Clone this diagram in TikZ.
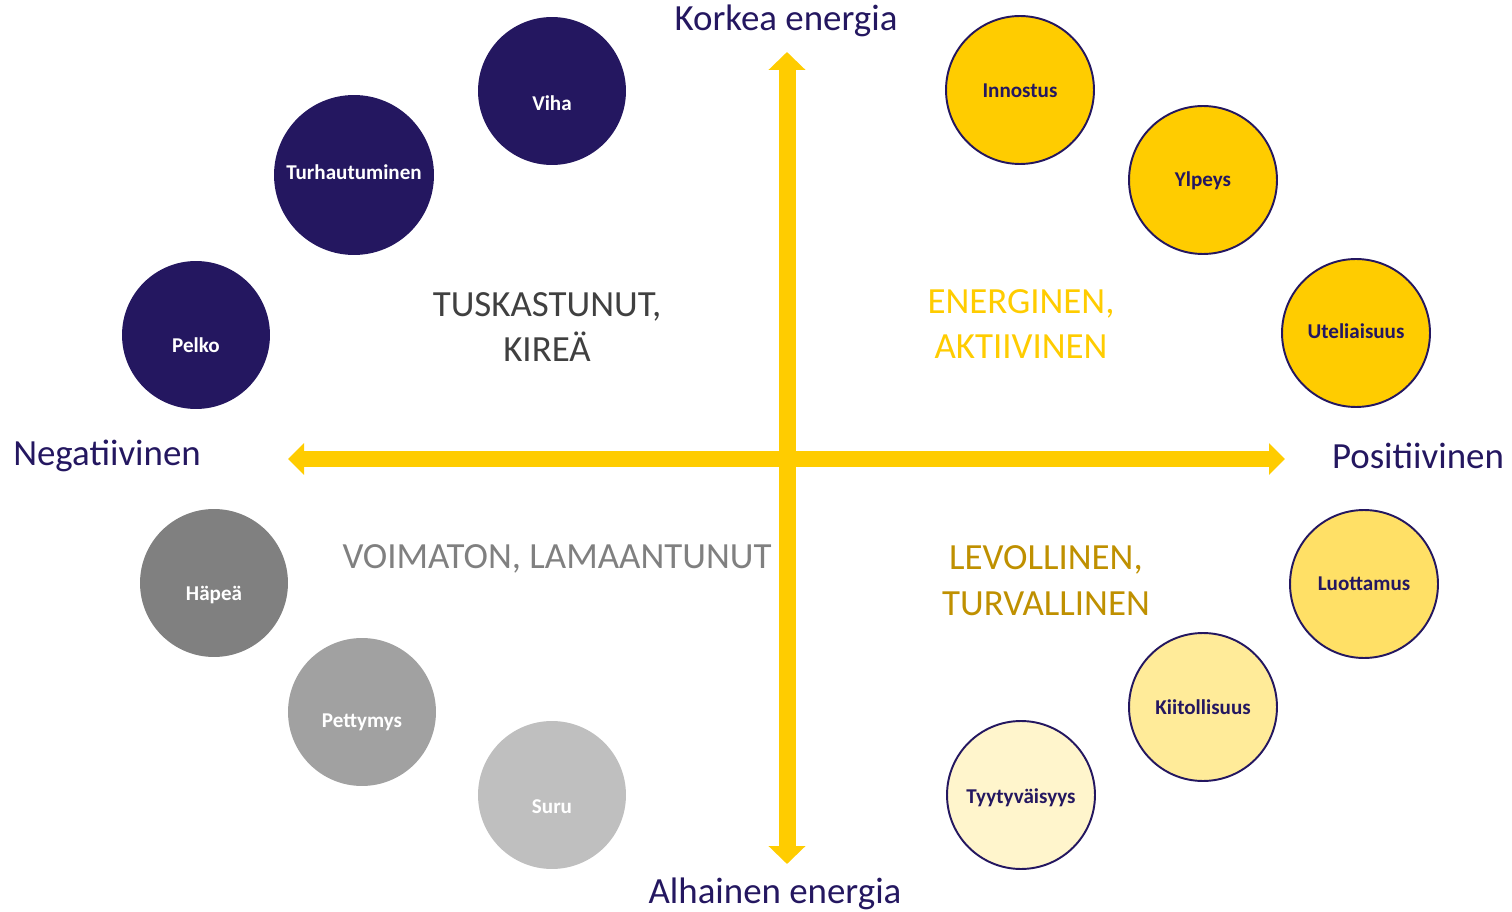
\documentclass[tikz,border=0pt]{standalone}
\usepackage{fontspec}
\setmainfont{Carlito}
\usepackage{xcolor}
\usetikzlibrary{arrows.meta}

\definecolor{navy}{HTML}{241760}
\definecolor{kelta}{HTML}{FFCC00}
\definecolor{kulta}{HTML}{BF9000}

\tikzset{
  tunne/.style={circle, minimum size=2.96cm, inner sep=0pt},
  tumma/.style={tunne, fill=navy},
  harmaa/.style={tunne},
  vaalea/.style={tunne, draw=navy, line width=1.1pt},
  nimi/.style={font=\fontsize{12}{14}\selectfont\bfseries, inner sep=0pt},
  akseli/.style={font=\fontsize{21}{24}\selectfont, text=navy},
  alue/.style={font=\fontsize{21}{26}\selectfont, align=center},
  nuoli/.style={kelta, line width=0.34cm, {Triangle[width=0.72cm,length=0.36cm]}-{Triangle[width=0.72cm,length=0.36cm]}}
}

\begin{document}
\begin{tikzpicture}[x=0.02cm, y=-0.02cm]
\useasboundingbox (0,0) rectangle (1512,912);

% axes
\coordinate (ylos) at (787,52);
\coordinate (alas) at (787,864);
\coordinate (vasen) at (288,459);
\coordinate (oikea) at (1285,459);
\draw[nuoli] (alas) -- (ylos);
\draw[nuoli, line width=0.32cm, {Triangle[width=0.62cm,length=0.32cm]}-{Triangle[width=0.62cm,length=0.32cm]}] (vasen) -- (oikea);

\node[akseli] (korkea) at (786,21) {Korkea energia};
\node[akseli] (alhainen) at (775,894) {Alhainen energia};
\node[akseli] (neg) at (107,456) {Negatiivinen};
\node[akseli] (pos) at (1418,456) {Positiivinen};

% quadrant labels
\node[alue, text=black!75] (tuska) at (547,327) {TUSKASTUNUT,\\KIREÄ};
\node[alue, text=kelta] (energ) at (1021,324) {ENERGINEN,\\AKTIIVINEN};
\node[alue, text=black!50] (voima) at (557,559) {VOIMATON, LAMAANTUNUT};
\node[alue, text=kulta] (levo) at (1046,581) {LEVOLLINEN,\\TURVALLINEN};

% negative, high energy
\node[tumma, label={[nimi, text=white, yshift=-0.24cm]center:Viha}] (viha) at (552,91) {};
\node[tumma, minimum size=3.2cm, label={[nimi, text=white, yshift=0.06cm]center:Turhautuminen}] (turha) at (354,175) {};
\node[tumma, label={[nimi, text=white, yshift=-0.2cm]center:Pelko}] (pelko) at (196,335) {};

% negative, low energy
\node[harmaa, fill=black!50, label={[nimi, text=white, yshift=-0.24cm]center:Häpeä}] (hapea) at (214,583) {};
\node[harmaa, fill=black!37, label={[nimi, text=white, yshift=-0.2cm]center:Pettymys}] (petty) at (362,712) {};
\node[harmaa, fill=black!25, label={[nimi, text=white, yshift=-0.24cm]center:Suru}] (suru) at (552,795) {};

% positive, high energy
\node[vaalea, fill=kelta, label={[nimi, text=navy, yshift=-0.02cm]center:Innostus}] (innostus) at (1020,90) {};
\node[vaalea, fill=kelta, label={[nimi, text=navy, yshift=-0.02cm]center:Ylpeys}] (ylpeys) at (1203,180) {};
\node[vaalea, fill=kelta, label={[nimi, text=navy, yshift=0.04cm]center:Uteliaisuus}] (uteli) at (1356,333) {};

% positive, low energy
\node[vaalea, fill=kelta!60, label={[nimi, text=navy]center:Luottamus}] (luotto) at (1364,584) {};
\node[vaalea, fill=kelta!40, label={[nimi, text=navy]center:Kiitollisuus}] (kiitos) at (1203,707) {};
\node[vaalea, fill=kelta!20, label={[nimi, text=navy, yshift=-0.06cm]center:Tyytyväisyys}] (tyyty) at (1021,795) {};
\end{tikzpicture}
\end{document}
